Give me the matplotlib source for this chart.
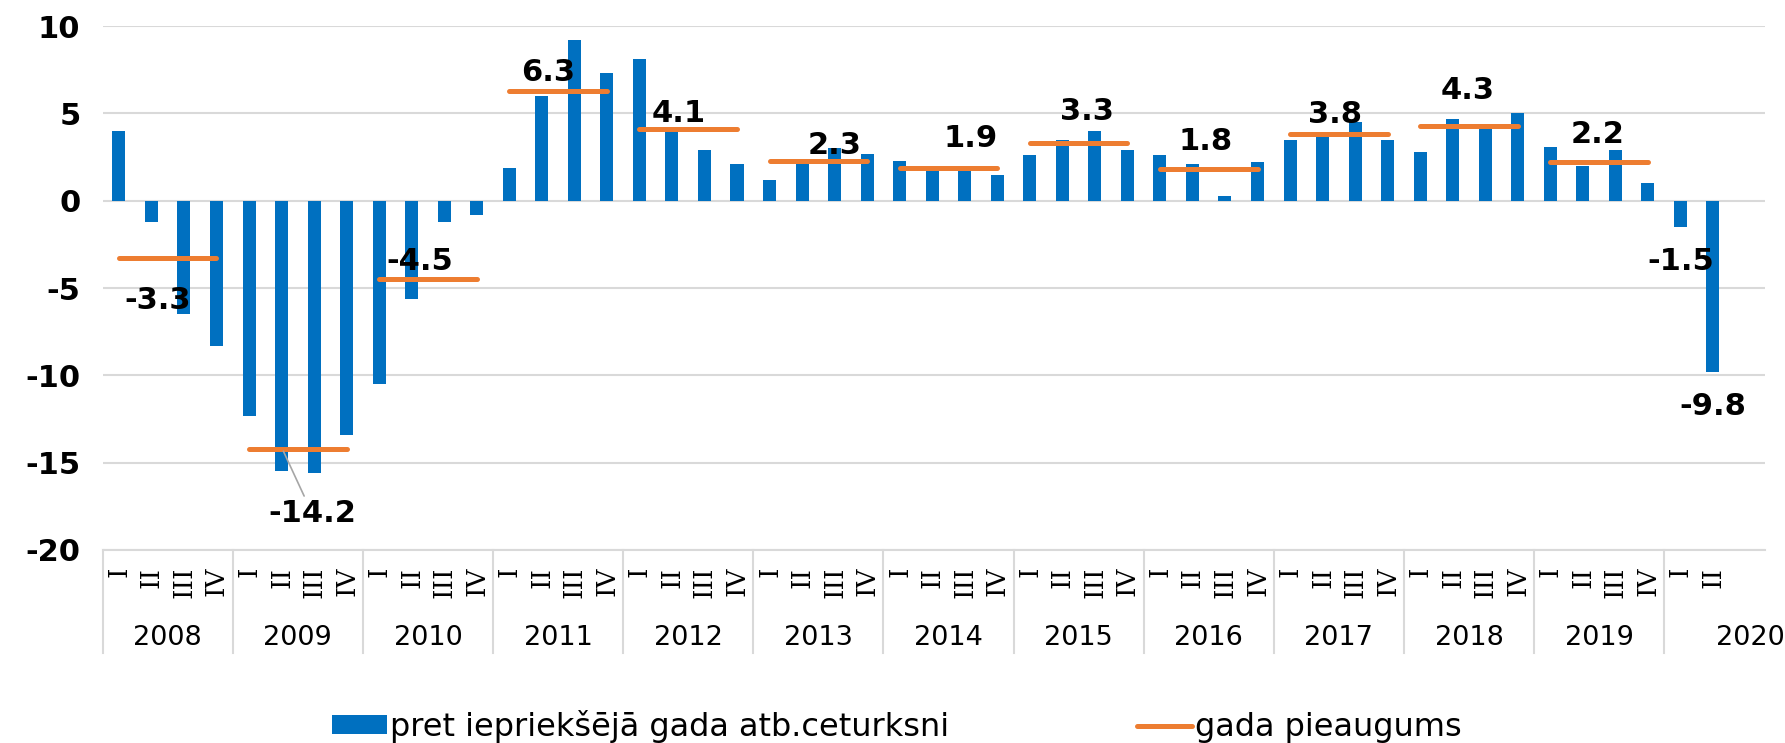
import matplotlib
matplotlib.use('Agg')
import matplotlib.pyplot as plt
import matplotlib.transforms as mtransforms
import numpy as np

# data
years = ['2008', '2009', '2010', '2011', '2012', '2013', '2014',
         '2015', '2016', '2017', '2018', '2019', '2020']
quarters = ['I', 'II', 'III', 'IV'] * 12 + ['I', 'II']
quarterly = [4.0, -1.2, -6.5, -8.3,
             -12.3, -15.5, -15.6, -13.4,
             -10.5, -5.6, -1.2, -0.8,
             1.9, 6.0, 9.2, 7.3,
             8.1, 4.0, 2.9, 2.1,
             1.2, 2.2, 3.0, 2.7,
             2.3, 2.0, 1.9, 1.5,
             2.6, 3.5, 4.0, 2.9,
             2.6, 2.1, 0.3, 2.2,
             3.5, 3.7, 4.5, 3.5,
             2.8, 4.7, 4.2, 5.0,
             3.1, 2.0, 2.9, 1.0,
             -1.5, -9.8]
annual = [-3.3, -14.2, -4.5, 6.3, 4.1, 2.3, 1.9, 3.3, 1.8, 3.8, 4.3, 2.2]
bar_name = 'pret iepriekšējā gada atb.ceturksni'
line_name = 'gada pieaugums'

# label offsets (points) for the annual values
ann_offsets = [(-7, -30), (0, 0), (-6, 13), (-7, 13), (-7, 11), (12, 11),
               (16, 21), (6, 23), (-2, 20), (-3, 14), (-1, 25), (-1, 20)]

blue = '#0070C0'
orange = '#ED7D31'
grid = '#D9D9D9'

plt.rcParams['font.family'] = 'DejaVu Sans'
plt.rcParams['axes.unicode_minus'] = False

fig = plt.figure(figsize=(17.85, 7.43), dpi=100)
ax = fig.add_axes([0.0575, 0.2598, 0.9313, 0.705])

x = np.arange(len(quarterly))
bars = ax.bar(x, quarterly, width=0.4, color=blue, zorder=2, label=bar_name)

lines = []
for i, v in enumerate(annual):
    ln, = ax.plot([4 * i, 4 * i + 3], [v, v], color=orange, lw=3.6,
                  solid_capstyle='round', zorder=3)
    lines.append(ln)
    cx = 4 * i + 1.5
    if i == 1:
        ax.annotate(f'{v:.1f}', xy=(4 * i + 1.02, v), xytext=(cx + 0.44, -17.9),
                    textcoords='data', ha='center', va='center',
                    fontsize=22, fontweight='bold',
                    arrowprops=dict(arrowstyle='-', color='#A6A6A6', lw=1.2,
                                    shrinkA=0, shrinkB=2), zorder=4)
    else:
        dx, dy = ann_offsets[i]
        ax.annotate(f'{v:.1f}', xy=(cx, v), xytext=(dx, dy),
                    textcoords='offset points', ha='center', va='center',
                    fontsize=22, fontweight='bold', zorder=4)
lines[0].set_label(line_name)

# labels of the last two quarters
for xi in [48, 49]:
    ax.annotate(f'{quarterly[xi]:.1f}', xy=(xi, quarterly[xi]), xytext=(0, -25),
                textcoords='offset points', ha='center', va='center',
                fontsize=22, fontweight='bold', zorder=4)

ax.set_ylim(-20, 10)
ax.set_xlim(-0.5, 50.6)
ax.set_yticks([10, 5, 0, -5, -10, -15, -20])
ax.tick_params(axis='y', length=0, pad=16, labelsize=22)
for t in ax.get_yticklabels():
    t.set_fontweight('bold')
ax.yaxis.grid(True, color=grid, lw=1.5, zorder=0)
ax.set_axisbelow(True)
for s in ['top', 'right', 'left']:
    ax.spines[s].set_visible(False)
ax.spines['bottom'].set_color(grid)
ax.spines['bottom'].set_linewidth(1.5)

ax.set_xticks(x)
ax.set_xticklabels(quarters, rotation=90, va='top', ha='center',
                   fontsize=19, family='DejaVu Serif')
ax.tick_params(axis='x', length=0, pad=12)

# year groups
trans = mtransforms.blended_transform_factory(ax.transData, ax.transAxes)
for k in range(len(years)):
    ax.plot([4 * k - 0.5, 4 * k - 0.5], [0, -0.197], color=grid, lw=1.5,
            transform=trans, clip_on=False)
    cx = 4 * k + 1.5 if k < 12 else 50.15
    ax.text(cx, -0.168, years[k], transform=trans, ha='center', va='center',
            fontsize=19.5)

fig.legend(handles=[bars, lines[0]], loc='center', bbox_to_anchor=(0.5025, 0.022),
           ncol=2, frameon=False, fontsize=23, handlelength=1.7,
           handleheight=0.55, handletextpad=0.1, columnspacing=5.9)

fig.savefig('out.png', dpi=100)
